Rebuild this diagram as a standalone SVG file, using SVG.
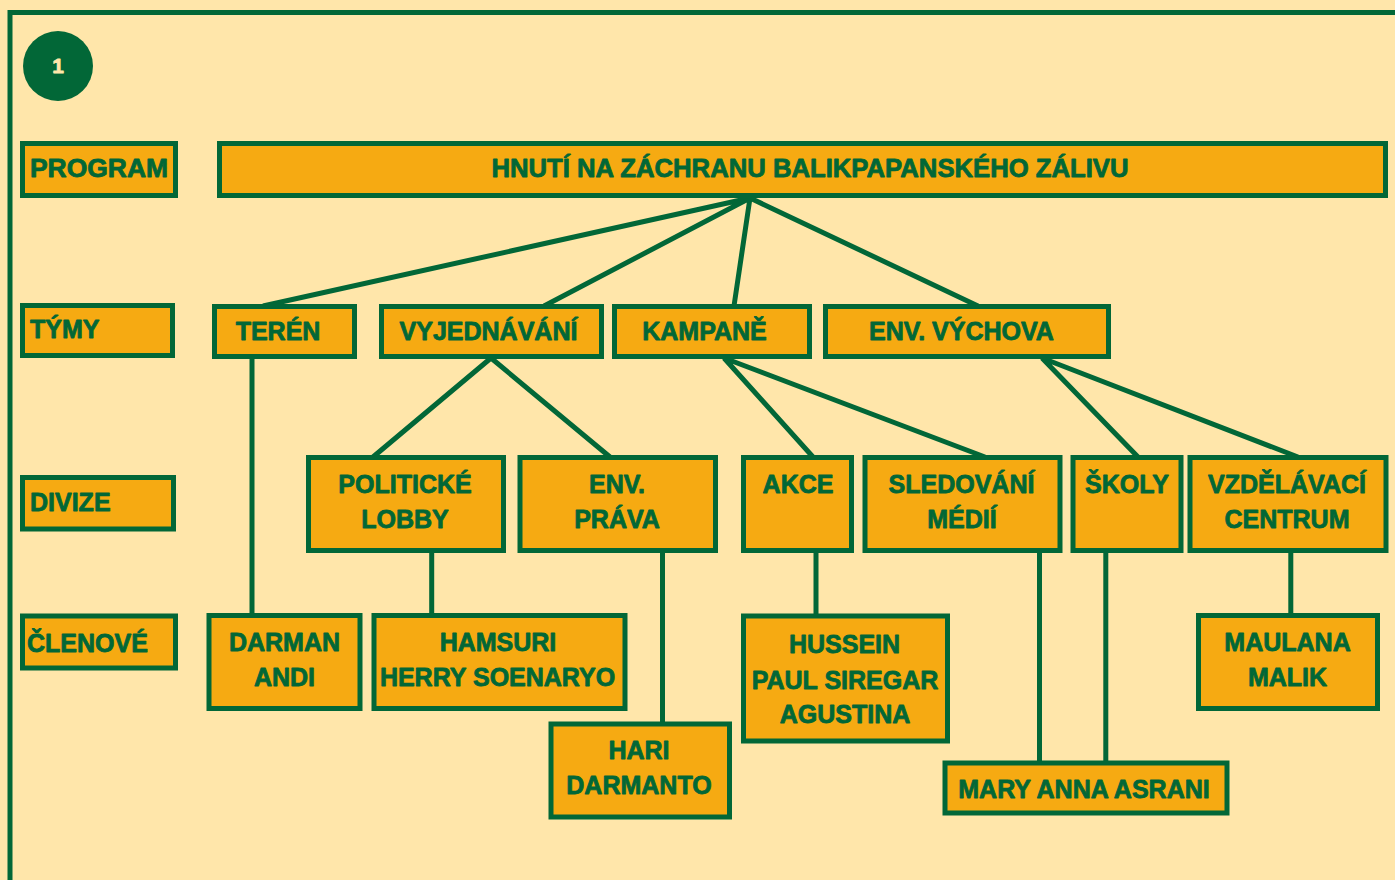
<svg xmlns="http://www.w3.org/2000/svg" width="1395" height="880" viewBox="0 0 1395 880">
<style>
.bx{fill:#F6AA12;stroke:#026737;stroke-width:5}
.ln{stroke:#026737;stroke-width:5;fill:none;stroke-linecap:butt}
text{font-family:"Liberation Sans",Arial,sans-serif;font-weight:bold;font-size:25px;fill:#026737;stroke:#026737;stroke-width:0.8px;stroke-linejoin:round}
.c{text-anchor:middle}
</style>
<rect x="0" y="0" width="1395" height="880" fill="#FFE6AA"/>
<rect x="10" y="12.5" width="1400" height="900" fill="none" stroke="#026737" stroke-width="5"/>
<g id="badge">
<circle cx="58" cy="66" r="35" fill="#026737"/>
<text x="58" y="73" class="c" style="fill:#FFE6AA;stroke:#FFE6AA;font-size:21px">1</text>
</g>
<g id="connectors">
<path class="ln" d="M750,198 L263,306 M750,198 L544,306 M750,198 L734,306 M750,198 L978,306"/>
<path class="ln" d="M491,358 L373,457 M491,358 L610,457"/>
<path class="ln" d="M724,358 L813,457 M724,358 L985,457"/>
<path class="ln" d="M1042,358 L1138,457 M1042,358 L1298,457"/>
<path class="ln" d="M252,358 V615 M431.7,552 V615 M662.5,552 V724 M816,552 V616 M1039.5,552 V763 M1105.8,552 V763 M1290.8,552 V615"/>
</g>
<g id="lbl-program"><rect class="bx" x="22.5" y="143.5" width="153" height="52"/><text x="30" y="177" textLength="138" lengthAdjust="spacingAndGlyphs">PROGRAM</text></g>
<g id="lbl-tymy"><rect class="bx" x="22.5" y="305.5" width="150" height="50"/><text x="30" y="338">TÝMY</text></g>
<g id="lbl-divize"><rect class="bx" x="22.5" y="477.5" width="151" height="51.5"/><text x="30" y="511">DIVIZE</text></g>
<g id="lbl-clenove"><rect class="bx" x="22.5" y="616" width="153" height="52"/><text x="27" y="652">ČLENOVÉ</text></g>
<g id="root"><rect class="bx" x="219.5" y="143.5" width="1166" height="52"/><text x="810" y="177" class="c" textLength="637" lengthAdjust="spacingAndGlyphs">HNUTÍ NA ZÁCHRANU BALIKPAPANSKÉHO ZÁLIVU</text></g>
<g id="teren"><rect class="bx" x="214.5" y="306.5" width="140" height="50"/><text x="278" y="340" class="c">TERÉN</text></g>
<g id="vyjednavani"><rect class="bx" x="381.5" y="306.5" width="220" height="50"/><text x="488.5" y="340" class="c">VYJEDNÁVÁNÍ</text></g>
<g id="kampane"><rect class="bx" x="614.5" y="306.5" width="195" height="50"/><text x="704.5" y="340" class="c">KAMPANĚ</text></g>
<g id="env-vychova"><rect class="bx" x="825.5" y="306.5" width="283" height="50"/><text x="961.5" y="340" class="c">ENV. VÝCHOVA</text></g>
<g id="politicke-lobby"><rect class="bx" x="308.5" y="457.5" width="195" height="93"/><text x="405" y="493" class="c">POLITICKÉ</text><text x="405" y="528" class="c">LOBBY</text></g>
<g id="env-prava"><rect class="bx" x="520" y="457.5" width="195.5" height="93"/><text x="617" y="493" class="c">ENV.</text><text x="617" y="528" class="c">PRÁVA</text></g>
<g id="akce"><rect class="bx" x="743.5" y="457.5" width="108" height="93"/><text x="798" y="493" class="c">AKCE</text></g>
<g id="sledovani-medii"><rect class="bx" x="865" y="457.5" width="195" height="93"/><text x="961.5" y="493" class="c">SLEDOVÁNÍ</text><text x="962" y="528" class="c">MÉDIÍ</text></g>
<g id="skoly"><rect class="bx" x="1073" y="457.5" width="108" height="93"/><text x="1127" y="493" class="c">ŠKOLY</text></g>
<g id="vzdelavaci-centrum"><rect class="bx" x="1190" y="457.5" width="196" height="93"/><text x="1287" y="493" class="c">VZDĚLÁVACÍ</text><text x="1287" y="528" class="c">CENTRUM</text></g>
<g id="darman-andi"><rect class="bx" x="209" y="615.5" width="151" height="93"/><text x="284.5" y="651" class="c">DARMAN</text><text x="284.5" y="686" class="c">ANDI</text></g>
<g id="hamsuri"><rect class="bx" x="374" y="615.5" width="251" height="93"/><text x="498" y="651" class="c">HAMSURI</text><text x="497.5" y="686" class="c">HERRY SOENARYO</text></g>
<g id="hari"><rect class="bx" x="551" y="724" width="178.5" height="93"/><text x="639" y="759" class="c">HARI</text><text x="639" y="794" class="c">DARMANTO</text></g>
<g id="hussein"><rect class="bx" x="743.5" y="616" width="204" height="125"/><text x="844.5" y="653" class="c">HUSSEIN</text><text x="845" y="688.5" class="c">PAUL SIREGAR</text><text x="845" y="723" class="c">AGUSTINA</text></g>
<g id="maulana"><rect class="bx" x="1198.5" y="615.5" width="179" height="93"/><text x="1287.5" y="651" class="c">MAULANA</text><text x="1287.5" y="686" class="c">MALIK</text></g>
<g id="mary"><rect class="bx" x="945" y="763" width="282" height="50"/><text x="1084" y="798" class="c">MARY ANNA ASRANI</text></g>
</svg>
